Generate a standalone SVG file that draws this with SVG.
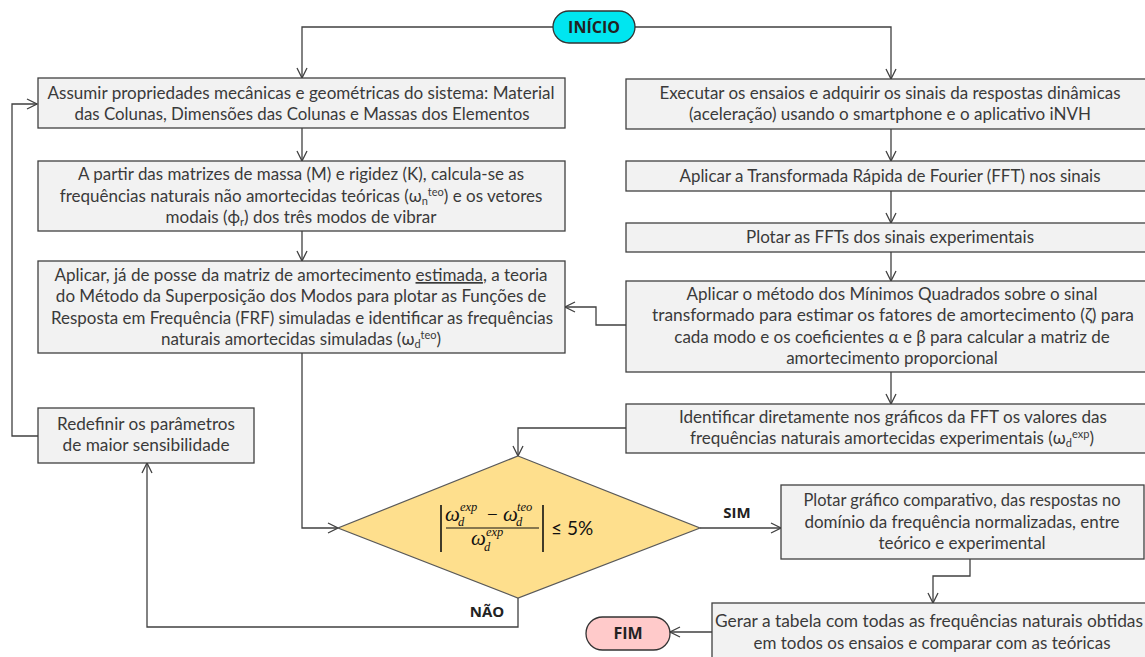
<svg xmlns="http://www.w3.org/2000/svg" width="1145" height="657" viewBox="0 0 1145 657">
<defs>
<marker id="ah" viewBox="0 0 12 12" markerWidth="12" markerHeight="12" refX="11" refY="6" orient="auto" markerUnits="userSpaceOnUse">
<path d="M1,1 L11,6 L1,11" fill="none" stroke="#404040" stroke-width="1.3"/>
</marker>
</defs>
<style>
.box{fill:#F2F2F2;stroke:#404040;stroke-width:1.3}
.t{font-family:Lato,"Open Sans","Liberation Sans",sans-serif;font-size:17px;fill:#3a3a3a;text-anchor:middle}
.b{font-family:"Open Sans",Lato,"Liberation Sans",sans-serif;font-weight:bold;font-size:16px;fill:#222;text-anchor:middle}
.c{fill:none;stroke:#404040;stroke-width:1.3;marker-end:url(#ah)}
.m{font-family:"Liberation Serif","DejaVu Serif",serif;font-style:italic;fill:#111}
.s{font-size:11px}
</style>
<rect width="1145" height="657" fill="#FFFFFF"/>
<g id="connectors">
<path class="c" d="M553,27 H302 V78"/>
<path class="c" d="M635,27 H891 V79"/>
<path class="c" d="M302,128 V161"/>
<path class="c" d="M302,231 V261"/>
<path class="c" d="M891,129 V161"/>
<path class="c" d="M891,191 V223"/>
<path class="c" d="M891,252 V281"/>
<path class="c" d="M626,325 H596 V307 H565"/>
<path class="c" d="M891,372 V404"/>
<path class="c" d="M626,428 H518 V456"/>
<path class="c" d="M302,353 V528 H338"/>
<path class="c" d="M700,528 H781"/>
<path class="c" d="M518,598 V627 H147 V463"/>
<path class="c" d="M38,436 H12 V104 H37"/>
<path class="c" d="M970,559 V576 H933 V603"/>
<path class="c" d="M712,632 H670"/>
<text class="b" x="737" y="518" style="font-size:15px">SIM</text>
<text class="b" x="487" y="617" style="font-size:15px">NÃO</text>
</g>
<g id="inicio">
<rect x="553" y="11" width="82" height="32" rx="16" fill="#00E6F0" stroke="#333" stroke-width="1.3"/>
<text class="b" x="594" y="33">INÍCIO</text>
</g>
<g id="boxA">
<rect class="box" x="38" y="78" width="527" height="50"/>
<text class="t" x="301" y="99" textLength="507" lengthAdjust="spacingAndGlyphs">Assumir propriedades mecânicas e geométricas do sistema: Material</text>
<text class="t" x="302" y="120" textLength="455" lengthAdjust="spacingAndGlyphs">das Colunas, Dimensões das Colunas e Massas dos Elementos</text>
</g>
<g id="boxB">
<rect class="box" x="38" y="161" width="527" height="70"/>
<text class="t" x="301" y="180" textLength="446" lengthAdjust="spacingAndGlyphs">A partir das matrizes de massa (M) e rigidez (K), calcula-se as</text>
<text class="t" x="301" y="202">frequências naturais não amortecidas teóricas (ω<tspan class="s" dy="3">n</tspan><tspan class="s" dy="-9">teo</tspan><tspan dy="6">) e os vetores</tspan></text>
<text class="t" x="301" y="223">modais (ϕ<tspan class="s" dy="3">r</tspan><tspan dy="-3">) dos três modos de vibrar</tspan></text>
</g>
<g id="boxC">
<rect class="box" x="38" y="261" width="527" height="92"/>
<text class="t" x="301" y="281" textLength="493" lengthAdjust="spacingAndGlyphs">Aplicar, já de posse da matriz de amortecimento <tspan text-decoration="underline">estimada</tspan>, a teoria</text>
<text class="t" x="301" y="302">do Método da Superposição dos Modos para plotar as Funções de</text>
<text class="t" x="302" y="324" textLength="502" lengthAdjust="spacingAndGlyphs">Resposta em Frequência (FRF) simuladas e identificar as frequências</text>
<text class="t" x="301" y="345">naturais amortecidas simuladas (ω<tspan class="s" dy="3">d</tspan><tspan class="s" dy="-9">teo</tspan><tspan dy="6">)</tspan></text>
</g>
<g id="boxD">
<rect class="box" x="38" y="408" width="216" height="55"/>
<text class="t" x="146" y="430" textLength="178" lengthAdjust="spacingAndGlyphs">Redefinir os parâmetros</text>
<text class="t" x="146" y="451" textLength="167" lengthAdjust="spacingAndGlyphs">de maior sensibilidade</text>
</g>
<g id="boxE">
<rect class="box" x="626" y="79" width="530" height="50"/>
<text class="t" x="890" y="99" textLength="461" lengthAdjust="spacingAndGlyphs">Executar os ensaios e adquirir os sinais da respostas dinâmicas</text>
<text class="t" x="890" y="120">(aceleração) usando o smartphone e o aplicativo iNVH</text>
</g>
<g id="boxF">
<rect class="box" x="626" y="161" width="530" height="30"/>
<text class="t" x="890" y="182" textLength="421" lengthAdjust="spacingAndGlyphs">Aplicar a Transformada Rápida de Fourier (FFT) nos sinais</text>
</g>
<g id="boxG">
<rect class="box" x="626" y="223" width="530" height="29"/>
<text class="t" x="890" y="243">Plotar as FFTs dos sinais experimentais</text>
</g>
<g id="boxH">
<rect class="box" x="626" y="281" width="530" height="91"/>
<text class="t" x="892" y="300">Aplicar o método dos Mínimos Quadrados sobre o sinal</text>
<text class="t" x="893" y="321" textLength="482" lengthAdjust="spacingAndGlyphs">transformado para estimar os fatores de amortecimento (ζ) para</text>
<text class="t" x="892" y="343">cada modo e os coeficientes α e β para calcular a matriz de</text>
<text class="t" x="892" y="364">amortecimento proporcional</text>
</g>
<g id="boxI">
<rect class="box" x="626" y="404" width="530" height="49"/>
<text class="t" x="893" y="423" textLength="428" lengthAdjust="spacingAndGlyphs">Identificar diretamente nos gráficos da FFT os valores das</text>
<text class="t" x="892" y="444">frequências naturais amortecidas experimentais (ω<tspan class="s" dy="3">d</tspan><tspan class="s" dy="-9">exp</tspan><tspan dy="6">)</tspan></text>
</g>
<g id="decision">
<polygon points="518,456 700,528 518,598 338,528" fill="#FEDF8D" stroke="#595959" stroke-width="1.2"/>
<line x1="441" y1="505" x2="441" y2="552" stroke="#111" stroke-width="1.6"/>
<line x1="543" y1="505" x2="543" y2="552" stroke="#111" stroke-width="1.6"/>
<line x1="446" y1="528" x2="539" y2="528" stroke="#111" stroke-width="1.2"/>
<text class="m" x="445" y="521" font-size="21">ω</text>
<text class="m" x="458" y="526" font-size="12.5">d</text>
<text class="m" x="460" y="511" font-size="12.5">exp</text>
<text x="487" y="521" font-family="'Liberation Serif',serif" font-size="19" fill="#111">−</text>
<text class="m" x="503" y="521" font-size="21">ω</text>
<text class="m" x="516" y="526" font-size="12.5">d</text>
<text class="m" x="517" y="511" font-size="12.5">teo</text>
<text class="m" x="471" y="545" font-size="21">ω</text>
<text class="m" x="484" y="551" font-size="12.5">d</text>
<text class="m" x="486" y="536" font-size="12.5">exp</text>
<text x="551" y="535" font-family="Lato,'Liberation Sans',sans-serif" font-size="19" fill="#111">≤ 5%</text>
</g>
<g id="boxJ">
<rect class="box" x="781" y="485" width="363" height="74"/>
<text class="t" x="962" y="506" textLength="317" lengthAdjust="spacingAndGlyphs">Plotar gráfico comparativo, das respostas no</text>
<text class="t" x="962" y="528">domínio da frequência normalizadas, entre</text>
<text class="t" x="962" y="549">teórico e experimental</text>
</g>
<g id="boxK">
<rect class="box" x="712" y="603" width="440" height="70"/>
<text class="t" x="929" y="627" textLength="428" lengthAdjust="spacingAndGlyphs">Gerar a tabela com todas as frequências naturais obtidas</text>
<text class="t" x="932" y="649" textLength="357" lengthAdjust="spacingAndGlyphs">em todos os ensaios e comparar com as teóricas</text>
</g>
<g id="fim">
<rect x="586" y="617" width="84" height="33" rx="16.5" fill="#FFCACA" stroke="#333" stroke-width="1.3"/>
<text class="b" x="628" y="639">FIM</text>
</g>
</svg>
